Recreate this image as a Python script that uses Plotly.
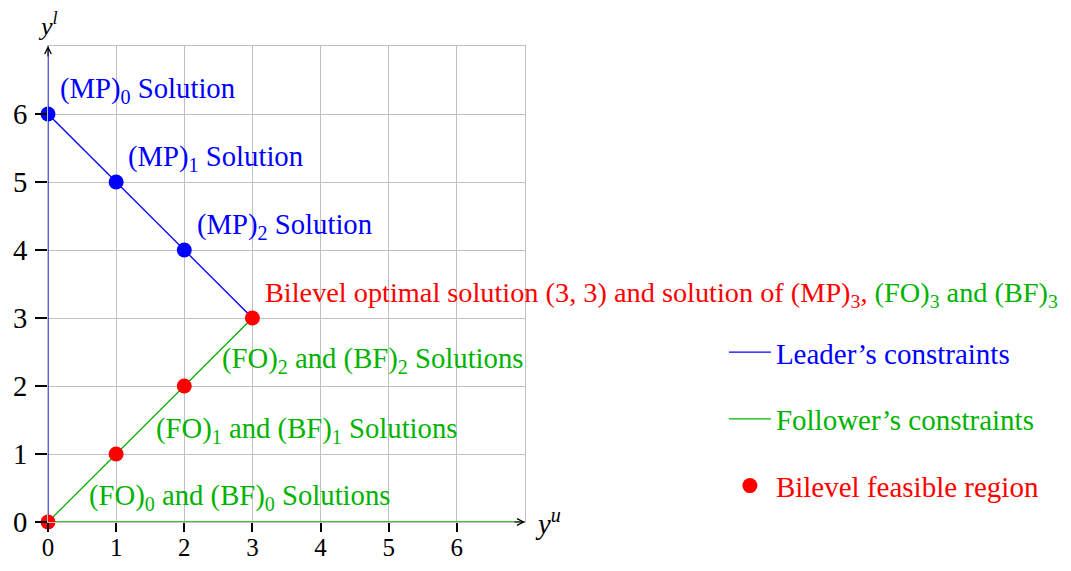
import plotly.graph_objects as go

# datos del problema binivel
leader_x = [0, 0, None, 0, 3]
leader_y = [0, 7, None, 6, 3]
follower_x = [0, 7, None, 0, 3]
follower_y = [0, 0, None, 0, 3]

mp_x = [0, 1, 2]
mp_y = [6, 5, 4]
bilevel_x = [0, 1, 2, 3]
bilevel_y = [0, 1, 2, 3]

ticks = [0, 1, 2, 3, 4, 5, 6]

BLUE = "#0000ff"
GREEN = "#00b300"
RED = "#ff0000"
FONT = "Liberation Serif"
FS = 28.7

fig = go.Figure()

fig.add_trace(go.Scatter(
    x=leader_x, y=leader_y, mode="lines",
    line=dict(color=BLUE, width=1.3),
    name="<span style='color:%s'>Leader’s constraints</span>" % BLUE,
    legendgroup="a", cliponaxis=False, hoverinfo="skip",
))
fig.add_trace(go.Scatter(
    x=follower_x, y=follower_y, mode="lines",
    line=dict(color=GREEN, width=1.3),
    name="<span style='color:%s'>Follower’s constraints</span>" % GREEN,
    legendgroup="b", cliponaxis=False, hoverinfo="skip",
))
fig.add_trace(go.Scatter(
    x=mp_x, y=mp_y, mode="markers",
    marker=dict(color=BLUE, size=15),
    showlegend=False, cliponaxis=False,
))
fig.add_trace(go.Scatter(
    x=bilevel_x, y=bilevel_y, mode="markers",
    marker=dict(color=RED, size=15),
    name="<span style='color:%s'>Bilevel feasible region</span>" % RED,
    legendgroup="c", cliponaxis=False,
))

# etiquetas de las soluciones
labels = [
    (0.15, 6.35, FS, "<span style='color:%s'>(MP)<sub>0</sub> Solution</span>" % BLUE),
    (1.15, 5.35, FS, "<span style='color:%s'>(MP)<sub>1</sub> Solution</span>" % BLUE),
    (2.15, 4.35, FS, "<span style='color:%s'>(MP)<sub>2</sub> Solution</span>" % BLUE),
    (3.15, 3.35, 28.3, "<span style='color:%s'>Bilevel optimal solution (3, 3) and solution of (MP)<sub>3</sub>,</span>"
                       " <span style='color:%s'>(FO)<sub>3</sub> and (BF)<sub>3</sub></span>" % (RED, GREEN)),
    (2.53, 2.38, FS, "<span style='color:%s'>(FO)<sub>2</sub> and (BF)<sub>2</sub> Solutions</span>" % GREEN),
    (1.55, 1.36, FS, "<span style='color:%s'>(FO)<sub>1</sub> and (BF)<sub>1</sub> Solutions</span>" % GREEN),
    (0.57, 0.37, FS, "<span style='color:%s'>(FO)<sub>0</sub> and (BF)<sub>0</sub> Solutions</span>" % GREEN),
]
for lx, ly, fs, txt in labels:
    fig.add_annotation(x=lx, y=ly, text=txt, showarrow=False,
                       xanchor="left", yanchor="middle",
                       font=dict(family=FONT, size=fs))

# flechas de los ejes
fig.add_annotation(x=0, y=7, ax=0, ay=12, showarrow=True, arrowhead=5,
                   arrowsize=1.3, arrowwidth=1, arrowcolor="black", text="")
fig.add_annotation(x=7, y=0, ax=-12, ay=0, showarrow=True, arrowhead=5,
                   arrowsize=1.3, arrowwidth=1, arrowcolor="black", text="")
fig.add_annotation(x=7, y=0, text="<i>y</i><sup><i>u</i></sup>", showarrow=False,
                   xanchor="left", yanchor="middle", xshift=8,
                   font=dict(family=FONT, size=FS, color="black"))
fig.add_annotation(x=0, y=7, text="<i>y</i><sup><i>l</i></sup>", showarrow=False,
                   xanchor="center", yanchor="bottom", yshift=3,
                   font=dict(family=FONT, size=26, color="black"))

axis_style = dict(
    range=[0, 7], tickvals=ticks, showgrid=True, gridcolor="#c0c0c0", gridwidth=1,
    zeroline=False, showline=True, linecolor="#c0c0c0", linewidth=1, mirror=True,
    ticks="outside", tickwidth=2, tickcolor="black", automargin=False,
    tickfont=dict(family=FONT, size=FS, color="black"),
)
fig.update_xaxes(**axis_style)
fig.update_xaxes(ticklen=9, ticklabelstandoff=-6,
                 tickfont=dict(family=FONT, size=25, color="black"))
fig.update_yaxes(**axis_style, ticklen=12, ticklabelstandoff=2)

# la página html añade 8px de margen, se compensa aquí
fig.update_layout(
    width=1055, height=555,
    margin=dict(l=40, r=538, t=38, b=41),
    plot_bgcolor="white", paper_bgcolor="white",
    font=dict(family=FONT, size=FS),
    showlegend=True,
    legend=dict(x=1.417, y=0.41, xanchor="left", yanchor="top",
                tracegroupgap=26, itemwidth=42, bgcolor="rgba(0,0,0,0)",
                font=dict(family=FONT, size=29)),
)

fig.write_html("out.html")
